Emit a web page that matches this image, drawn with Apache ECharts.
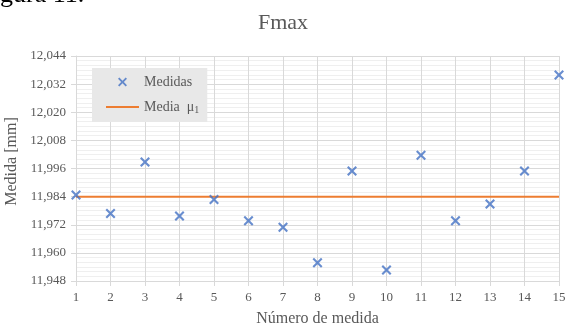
<!DOCTYPE html>
<html>
<head>
<meta charset="utf-8">
<script src="https://cdn.jsdelivr.net/npm/echarts@6/dist/echarts.min.js"></script>
<style>
  html, body { margin: 0; padding: 0; background: #fff; }
  #chart { width: 566px; height: 329px; }
</style>
</head>
<body>
<div id="chart"></div>
<script>
// Measurement number (1..15)
const measureNo = [1, 2, 3, 4, 5, 6, 7, 8, 9, 10, 11, 12, 13, 14, 15];
// Measured Fmax values in mm
const measured = [11.9847, 11.9768, 11.9988, 11.9757, 11.9828, 11.9737, 11.9709, 11.9558,
                  11.9949, 11.9527, 12.0017, 11.9737, 11.9809, 11.9949, 12.0359];
// Mean value mu1 in mm
const meanValue = 11.9839;
// Y axis range and step (mm)
const yMin = 11.948, yMax = 12.044, yStep = 0.012;

const serif = "'Liberation Serif', 'Times New Roman', serif";
const textGray = '#595959';
const gridMajor = '#d9d9d9';
const gridMinor = '#efefef';

// Filled "X" cross marker
const crossPath = 'path://M0,1.5L1.5,0L5,3.5L8.5,0L10,1.5L6.5,5L10,8.5L8.5,10L5,6.5L1.5,10L0,8.5L3.5,5Z';
// Flat bar used as the legend key of the mean line
const lineKey = 'path://M0,0H33V2H0Z';

const chart = echarts.init(document.getElementById('chart'), null, { renderer: 'canvas' });

chart.setOption({
  animation: false,
  backgroundColor: '#fff',
  title: {
    text: 'Fmax',
    left: 'center',
    top: 7,
    textStyle: { fontFamily: serif, fontSize: 22, fontWeight: 'normal', color: textGray }
  },
  graphic: [{
    type: 'text',
    left: 0,
    top: -18,
    style: { text: 'gura 11.', font: "26px " + serif, fill: '#000' }
  }],
  grid: { left: 76, right: 7, top: 56, bottom: 48, containLabel: false, outerBoundsMode: 'none' },
  legend: {
    orient: 'vertical',
    left: 92,
    top: 68,
    padding: [7, 8, 7, 14],
    backgroundColor: '#e8e8e8',
    itemWidth: 33,
    itemHeight: 9,
    itemGap: 11,
    data: [{ name: 'Medidas' }, { name: 'Media μ1', icon: lineKey }],
    formatter: function (name) {
      return name === 'Media μ1' ? '{t|Media  μ}{s|1}' : '{t|' + name + '}';
    },
    textStyle: {
      fontFamily: serif,
      color: textGray,
      rich: {
        t: { fontFamily: serif, fontSize: 14, color: textGray },
        s: { fontFamily: serif, fontSize: 10, color: textGray, verticalAlign: 'bottom', padding: [6, 0, 0, 0] }
      }
    }
  },
  xAxis: {
    type: 'value',
    min: 1,
    max: 15,
    interval: 1,
    name: 'Número de medida',
    nameLocation: 'middle',
    nameGap: 30,
    nameTextStyle: { fontFamily: serif, fontSize: 16, color: textGray },
    axisLine: { show: true, lineStyle: { color: gridMajor, width: 1 } },
    axisTick: { show: true, length: 5, lineStyle: { color: gridMajor } },
    axisLabel: { fontFamily: serif, fontSize: 13, color: textGray, margin: 10 },
    splitLine: { show: true, lineStyle: { color: gridMajor, width: 1 } }
  },
  yAxis: {
    type: 'value',
    min: yMin,
    max: yMax,
    interval: yStep,
    name: 'Medida [mm]',
    nameLocation: 'middle',
    nameGap: 50,
    nameTextStyle: { fontFamily: serif, fontSize: 16, color: textGray, padding: [0, 0, 0, 14] },
    axisLine: { show: true, lineStyle: { color: gridMajor, width: 1 } },
    axisTick: { show: true, length: 5, lineStyle: { color: gridMajor } },
    axisLabel: {
      fontFamily: serif, fontSize: 13, color: textGray, margin: 10,
      formatter: function (v) { return v.toFixed(3).replace('.', ','); }
    },
    splitLine: { show: true, lineStyle: { color: gridMajor, width: 1 } },
    minorTick: { show: false, splitNumber: 6 },
    minorSplitLine: { show: true, lineStyle: { color: gridMinor, width: 1 } }
  },
  series: [
    {
      name: 'Medidas',
      type: 'scatter',
      symbol: crossPath,
      symbolSize: 10,
      clip: false,
      itemStyle: { color: '#4472c4' },
      data: measureNo.map((n, i) => [n, measured[i]]),
      z: 3
    },
    {
      name: 'Media μ1',
      type: 'line',
      symbol: 'none',
      lineStyle: { color: '#ed7d31', width: 2 },
      itemStyle: { color: '#ed7d31' },
      data: [[measureNo[0], meanValue], [measureNo[measureNo.length - 1], meanValue]],
      z: 2
    }
  ]
});
</script>
</body>
</html>
